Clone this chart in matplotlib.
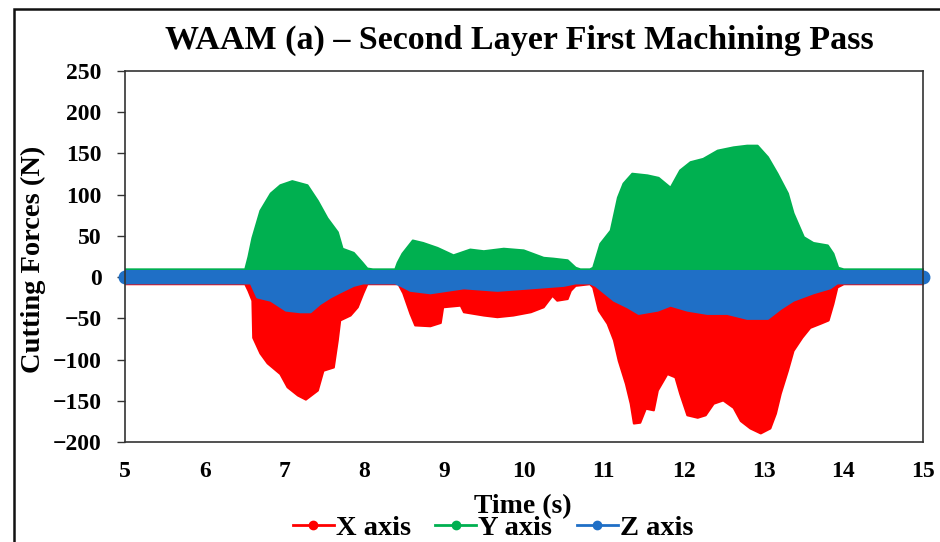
import matplotlib
matplotlib.use("Agg")
import matplotlib.pyplot as plt
from matplotlib.lines import Line2D
from matplotlib.patches import Rectangle

plt.rcParams['font.family'] = ['Liberation Serif', 'DejaVu Serif']
plt.rcParams['font.weight'] = 'bold'

# envelope of the X force (lower edge, N)
x_time = [5.0, 6.50, 6.54, 6.59, 6.60, 6.69, 6.78, 6.94, 7.03, 7.16, 7.26, 7.41,
          7.48, 7.61, 7.66, 7.69, 7.82, 7.91, 7.98, 8.03, 8.38, 8.42, 8.48, 8.57,
          8.63, 8.82, 8.95, 8.98, 9.20, 9.24, 9.49, 9.66, 9.86, 10.08, 10.24, 10.35,
          10.41, 10.54, 10.58, 10.64, 10.82, 10.86, 10.93, 11.04, 11.12, 11.18, 11.27, 11.33,
          11.37, 11.45, 11.52, 11.62, 11.67, 11.79, 11.89, 11.95, 12.04, 12.17, 12.27, 12.37,
          12.49, 12.62, 12.71, 12.83, 12.96, 13.08, 13.15, 13.21, 13.30, 13.37, 13.48, 13.58,
          13.71, 13.81, 13.87, 13.92, 14.0, 15.0]
x_force = [-8, -8, -16, -28, -73, -92, -104, -117, -133, -143, -148, -137,
           -113, -109, -76, -52, -46, -36, -19, -8, -8, -8, -19, -44,
           -58, -59, -55, -36, -34, -42, -46, -48, -46, -42, -36, -22,
           -28, -26, -16, -10, -8, -12, -40, -56, -76, -101, -129, -153,
           -177, -176, -159, -161, -137, -117, -121, -141, -167, -170, -167, -153,
           -149, -158, -174, -183, -189, -183, -165, -141, -113, -89, -73, -61,
           -56, -52, -32, -12, -8, -8]

# envelope of the Y force (upper edge, N)
y_time = [5.0, 6.50, 6.54, 6.59, 6.69, 6.82, 6.94, 7.09, 7.28, 7.41, 7.53, 7.66,
          7.72, 7.86, 7.97, 8.03, 8.10, 8.38, 8.41, 8.47, 8.60, 8.73, 8.91, 9.11,
          9.32, 9.49, 9.74, 9.99, 10.24, 10.36, 10.54, 10.64, 10.70, 10.82, 10.86, 10.95,
          11.08, 11.17, 11.24, 11.35, 11.54, 11.68, 11.83, 11.95, 12.08, 12.24, 12.42, 12.62,
          12.79, 12.92, 13.05, 13.17, 13.30, 13.37, 13.50, 13.62, 13.80, 13.87, 13.93, 14.0,
          15.0]
y_force = [10, 10, 25, 48, 81, 102, 112, 117, 112, 93, 72, 55,
           35, 30, 18, 11, 10, 10, 18, 29, 45, 42, 36, 27,
           34, 32, 35, 33, 24, 23, 21, 12, 10, 10, 12, 41,
           57, 97, 114, 126, 124, 121, 109, 130, 140, 144, 154, 158,
           160, 160, 146, 126, 102, 78, 49, 42, 39, 29, 12, 10,
           10]

# envelope of the Z force (lower edge, N); upper edge stays near +8 N
z_time = [5.0, 6.50, 6.57, 6.65, 6.82, 7.01, 7.19, 7.32, 7.44, 7.57, 7.69, 7.86,
          7.98, 8.05, 8.38, 8.45, 8.57, 8.82, 9.24, 9.66, 10.08, 10.49, 10.64, 10.82,
          10.89, 11.12, 11.29, 11.43, 11.67, 11.83, 12.04, 12.29, 12.54, 12.79, 13.05, 13.21,
          13.37, 13.62, 13.83, 13.92, 14.0, 15.0]
z_force = [-7, -7, -7, -24, -28, -40, -42, -42, -32, -24, -18, -10,
           -7, -7, -7, -10, -16, -19, -13, -16, -13, -10, -7, -7,
           -10, -28, -36, -44, -40, -34, -40, -44, -44, -50, -50, -38,
           -28, -19, -13, -7, -7, -7]
z_top = 8

labels = ['X axis', 'Y axis', 'Z axis']
colors = ['#ff0000', '#00b050', '#1f6fc6']

W, H = 940, 542
fig = plt.figure(figsize=(9.4, 5.42), dpi=100)
ax = fig.add_axes([0.133, 0.1845, 0.849, 0.6845])

# dense signal drawn as filled envelopes
ax.fill_between(x_time, x_force, 0, color=colors[0], lw=1.5, ec=colors[0])
ax.fill_between(y_time, 0, y_force, color=colors[1], lw=1.5, ec=colors[1])
ax.fill_between(z_time, z_force, z_top, color=colors[2], lw=1.5, ec=colors[2])
# rounded ends of the trace
ax.plot([z_time[0], z_time[-1]], [0.5, 0.5], 'o', ms=9, color=colors[2], clip_on=False)

ax.set_xlim(5, 15)
ax.set_ylim(-200, 250)
ax.set_xticks(range(5, 16))
ax.set_yticks(range(-200, 251, 50))
ax.tick_params(axis='x', length=0, pad=14, labelsize=17)
ax.tick_params(axis='y', length=6, width=1, pad=11, labelsize=17, color='#333333')
for s in ax.spines.values():
    s.set_color('#333333')
    s.set_linewidth(1.2)

fig.text(519 / W, 1 - 40 / H, 'WAAM (a) \u2013 Second Layer First Machining Pass',
         fontsize=24.5, fontweight='bold', ha='center', va='center')
fig.text(33 / W, 1 - 259 / H, 'Cutting Forces (N)', fontsize=20.5, fontweight='bold',
         rotation=90, ha='center', va='center')
fig.text(523 / W, 1 - 507 / H, 'Time (s)', fontsize=20, fontweight='bold',
         ha='center', va='center')

handles = [Line2D([], [], color=c, lw=2, marker='o', ms=6) for c in colors]
fig.legend(handles, labels, loc='center', bbox_to_anchor=(493 / W, 1 - 528 / H), ncol=3,
           frameon=False, fontsize=20.5, handlelength=1.45, handletextpad=0.07,
           columnspacing=0.85, borderpad=0, borderaxespad=0)

# outer frame of the figure
fig.add_artist(Rectangle((14 / W, -0.2), 1.2, 1.2 - 9 / H, transform=fig.transFigure,
                         fill=False, lw=1.8, ec='#111111'))

fig.savefig('out.png', dpi=100)
